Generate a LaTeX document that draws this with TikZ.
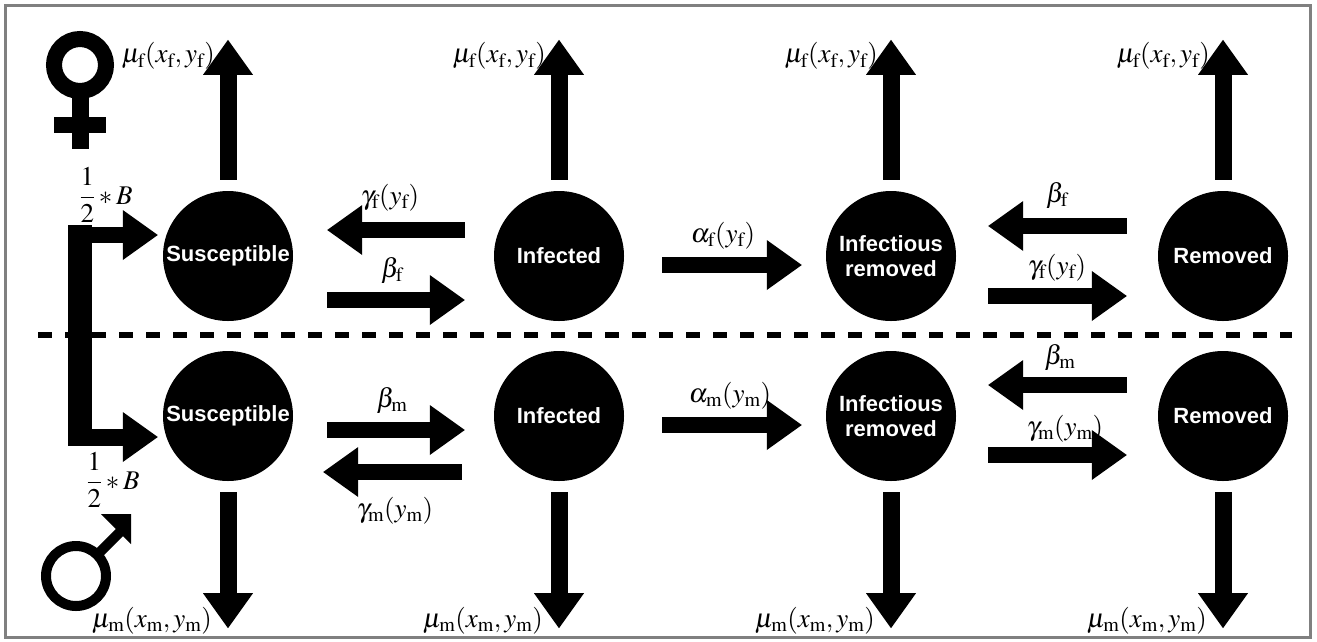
\documentclass[tikz,border=0pt]{standalone}
\usepackage{mathptmx}
\usepackage{fontspec}
\setmainfont{Liberation Serif}
\setsansfont{Liberation Sans}
\usetikzlibrary{arrows.meta,calc}
\newcommand{\sub}[1]{_{\mathrm{#1}}}
\begin{document}
\begin{tikzpicture}[x=1pt,y=-1pt,
  state/.style={circle, fill=black, minimum size=130pt, inner sep=0pt, text=white,
    font=\sffamily\bfseries\fontsize{22}{25}\selectfont, align=center},
  flowh/.style={line width=16pt, -{Triangle[length=35pt,width=50pt,line width=0pt]}},
  flowv/.style={line width=17pt, -{Triangle[length=35pt,width=50pt,line width=0pt]}},
  lbl/.style={font=\fontsize{27}{32}\selectfont, inner sep=0pt, anchor=base},
  mulbl/.style={font=\fontsize{27}{32}\selectfont, inner sep=0pt, anchor=base east},
  sepline/.style={line width=6pt, dash pattern=on 14pt off 13pt},
  frame/.style={draw=gray, line width=3pt}]
\useasboundingbox (0,0) rectangle (1317,641);
\fill[white] (0,0) rectangle (1317,641);
\draw[frame] (5,5) rectangle (1310,637);

% compartments
\node[state] (Sf) at (228,256) {Susceptible};
\node[state] (If) at (559,256) {Infected};
\node[state] (IRf) at (891,256) {Infectious\\removed};
\node[state] (Rf) at (1223,256) {Removed};
\node[state] (Sm) at (228,416) {Susceptible};
\node[state] (Im) at (559,416) {Infected};
\node[state] (IRm) at (891,416) {Infectious\\removed};
\node[state] (Rm) at (1223,416) {Removed};

% separator
\draw[sepline] (38,335) -- (1292,335);

% mortality arrows
\foreach \n in {Sf,If,IRf,Rf}{
  \draw[flowv] ([yshift=11pt]\n.north) -- ([yshift=151pt]\n.north);
  \node[mulbl] at ([xshift=-13pt,yshift=128pt]\n.north) {$\mu\sub{f}(x\sub{f},y\sub{f})$};
}
\foreach \n in {Sm,Im,IRm,Rm}{
  \draw[flowv] ([yshift=-11pt]\n.south) -- ([yshift=-147pt]\n.south);
  \node[mulbl] at ([xshift=-16pt,yshift=-146pt]\n.south) {$\mu\sub{m}(x\sub{m},y\sub{m})$};
}

% female transitions
\draw[flowh] ([xshift=-29pt,yshift=26pt]If.west) -- ([xshift=34pt,yshift=26pt]Sf.east);
\node[lbl] at (390,204) {$\gamma\sub{f}(y\sub{f})$};
\draw[flowh] ([xshift=34pt,yshift=-44pt]Sf.east) -- ([xshift=-29pt,yshift=-44pt]If.west);
\node[lbl] at (392,277) {$\beta\sub{f}$};
\draw[flowh] ([xshift=38pt,yshift=-9pt]If.east) -- ([xshift=-24pt,yshift=-9pt]IRf.west);
\node[lbl] at (723,242) {$\alpha\sub{f}(y\sub{f})$};
\draw[flowh] ([xshift=-31pt,yshift=30pt]Rf.west) -- ([xshift=32pt,yshift=30pt]IRf.east);
\node[lbl] at (1057,202) {$\beta\sub{f}$};
\draw[flowh] ([xshift=32pt,yshift=-40pt]IRf.east) -- ([xshift=-31pt,yshift=-40pt]Rf.west);
\node[lbl] at (1057,274) {$\gamma\sub{f}(y\sub{f})$};

% male transitions
\draw[flowh] ([xshift=34pt,yshift=-14pt]Sm.east) -- ([xshift=-29pt,yshift=-14pt]Im.west);
\node[lbl] at (392,407) {$\beta\sub{m}$};
\draw[flowh] ([xshift=-32pt,yshift=-56pt]Im.west) -- ([xshift=30pt,yshift=-56pt]Sm.east);
\node[lbl] at (395,517) {$\gamma\sub{m}(y\sub{m})$};
\draw[flowh] ([xshift=38pt,yshift=-9pt]Im.east) -- ([xshift=-24pt,yshift=-9pt]IRm.west);
\node[lbl] at (730,402) {$\alpha\sub{m}(y\sub{m})$};
\draw[flowh] ([xshift=-31pt,yshift=31pt]Rm.west) -- ([xshift=32pt,yshift=31pt]IRm.east);
\node[lbl] at (1060,364) {$\beta\sub{m}$};
\draw[flowh] ([xshift=32pt,yshift=-39pt]IRm.east) -- ([xshift=-31pt,yshift=-39pt]Rm.west);
\node[lbl] at (1065,435) {$\gamma\sub{m}(y\sub{m})$};

% birth bracket
\fill (68,225) rectangle (92,446);
\coordinate (bt) at (80,235);
\coordinate (bb) at (80,437);
\draw[flowh] (bt) -- ([xshift=-5pt,yshift=21pt]Sf.west);
\draw[flowh, line width=17pt] (bb) -- ([xshift=-5pt,yshift=-21pt]Sm.west);
\node[lbl] at (106,204) {${\displaystyle\frac{1}{2}}*B$};
\node[lbl] at (113,489) {${\displaystyle\frac{1}{2}}*B$};

% female symbol
\draw[line width=16pt] (80,65) circle[radius=26pt];
\fill (71.5,95) rectangle (88.5,149);
\fill (54,117) rectangle (106,133);

% male symbol
\draw[line width=10pt] (76,576) circle[radius=30pt];
\draw[line width=10pt] (97,555) -- (122,530);
\fill (101,514) -- (131,514) -- (131,544) -- cycle;
\end{tikzpicture}
\end{document}
